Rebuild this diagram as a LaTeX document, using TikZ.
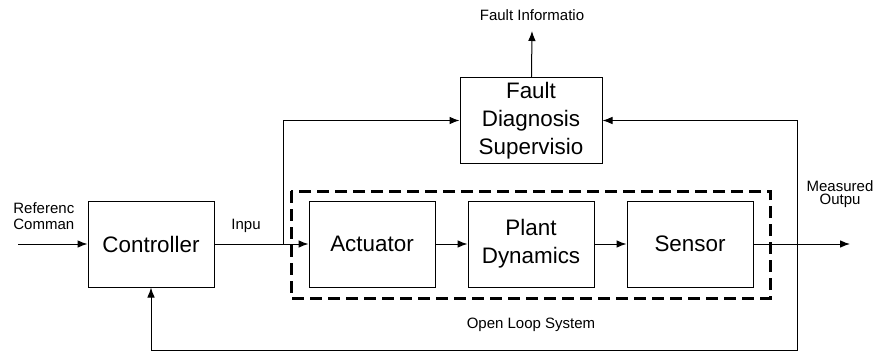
\documentclass[tikz,border=0pt]{standalone}
\usepackage{fontspec}
\setmainfont{Liberation Sans}
\usetikzlibrary{arrows.meta,positioning}
\tikzstyle{block}=[
	rectangle,
	draw,
	line width=0.5pt,
	minimum width=63pt,
	minimum height=43pt,
	inner sep=0pt,
	align=center,
	font=\fontsize{11.2}{14}\selectfont,
	node distance=18.5pt and 16pt
]
\tikzstyle{signal}=[
	-{Latex[length=5pt,width=3.8pt]},
	line width=0.5pt
]
\tikzstyle{tag}=[
	inner sep=0pt,
	align=center,
	font=\fontsize{7.5}{8}\selectfont
]
\tikzstyle{openloop}=[
	draw,
	line width=1.5pt,
	dash pattern=on 6pt off 3pt
]

\begin{document}
\begin{tikzpicture}[x=0.5pt,y=-0.5pt]
\useasboundingbox (0,0) rectangle (877,353);
\node [block] (Controller) at (151,244) {Controller};
\node [block] (Actuator)[right=47pt of Controller] {Actuator};
\node [block] (Plant)[right=of Actuator] {Plant\\Dynamics};
\node [block] (Sensor)[right=of Plant] {Sensor};
\node [block, minimum width=71pt, minimum height=42.5pt] (Diagnosis)[above=of Plant] {Fault\\Diagnosis\\Supervisio};
% open loop frame
\draw [openloop] (291,191) rectangle (770,298);
\node [tag] (OpenLoop) at (531,325) {Open Loop System};
% labels
\node [tag, align=left, anchor=west] (Reference) at (13,216) {Referenc\\Comman};
\node [tag] (Input) at (246,226) {Inpu};
\node [tag, font=\fontsize{7.5}{6.5}\selectfont] (Measured) at (840,194) {Measured\\Outpu};
\node [tag] (FaultInfo) at (532,15) {Fault Informatio};
% free ends and branch points
\coordinate (RefIn) at (18,244);
\coordinate (Split) at (283,244);
\coordinate (Tap) at (797,244);
\coordinate (Out) at (850,244);
\coordinate (InfoOut) at (532,31);
\coordinate (Bottom) at (797,350);
% signals
\draw [signal] (RefIn) -- (Controller);
\draw [signal] (Controller) -- (Actuator);
\draw [signal] (Actuator) -- (Plant);
\draw [signal] (Plant) -- (Sensor);
\draw [signal] (Sensor) -- (Out);
\draw [signal] (Split) |- (Diagnosis.west);
\draw [signal] (Tap) |- (Diagnosis.east);
\draw [signal] (Tap) -- (Bottom) -| (Controller.south);
\draw [signal] (Diagnosis) -- (InfoOut);
\end{tikzpicture}
\end{document}
